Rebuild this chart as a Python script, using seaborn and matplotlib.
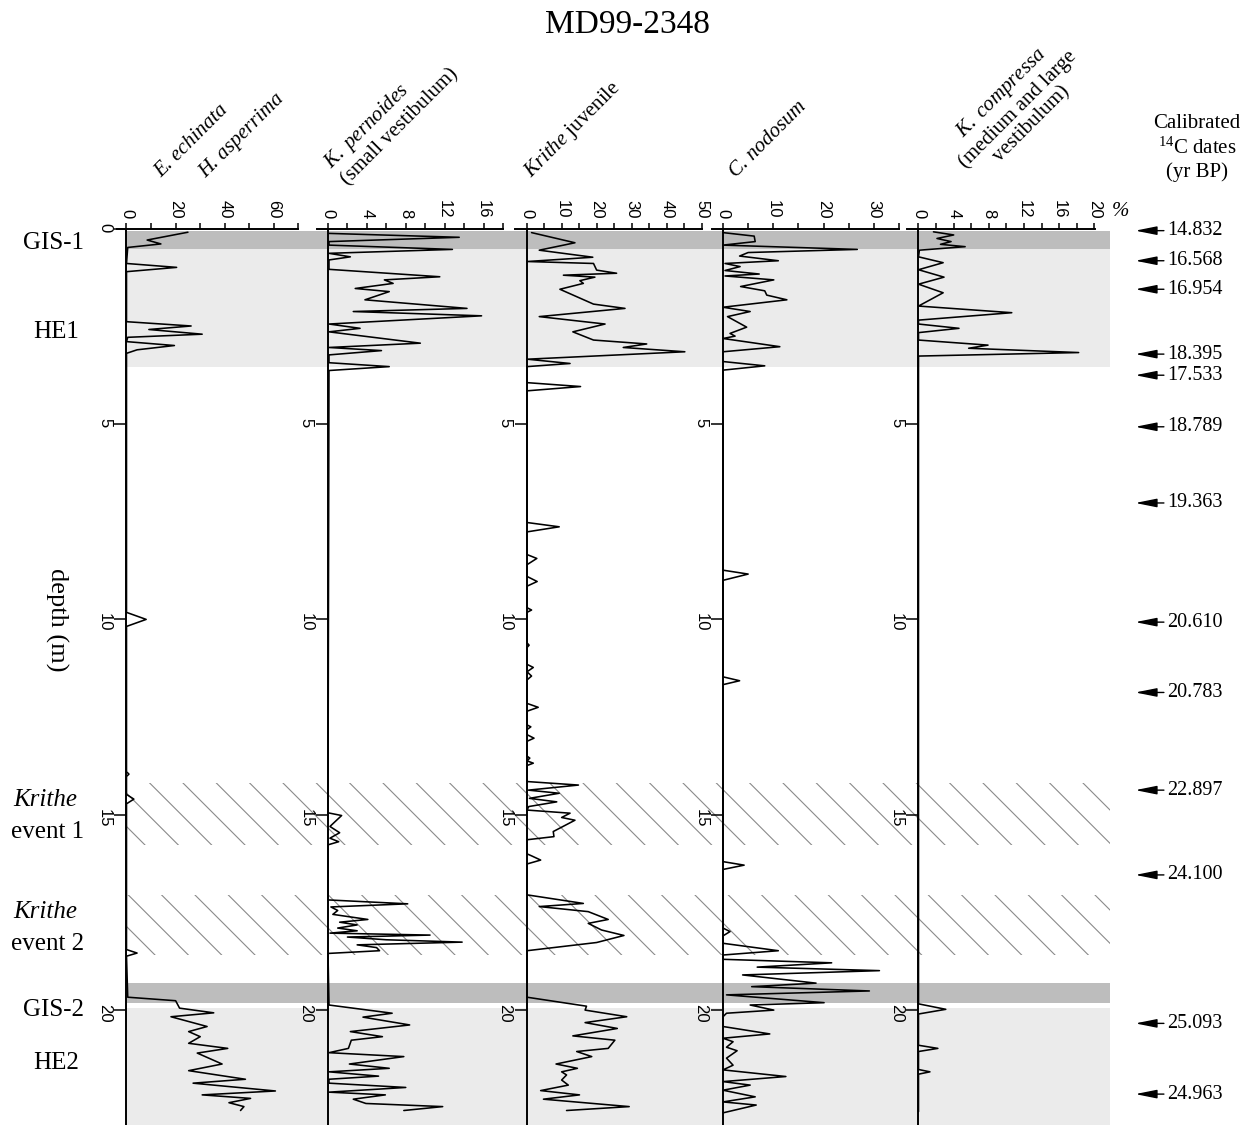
import matplotlib
matplotlib.use("Agg")
import matplotlib.pyplot as plt
import seaborn as sns
import numpy as np

# ---- data: depth (m) and abundance (%) ----
ech_depth = [0.09, 0.29, 0.39, 0.48, 0.89, 0.99, 1.10, 2.38, 2.49, 2.58, 2.70, 2.78, 2.89, 2.99, 3.10, 3.19,
             9.82, 10.0, 10.18, 13.9, 13.96, 14.02, 14.48, 14.6, 14.72, 18.45, 18.54, 18.62,
             19.67, 19.76, 19.95, 20.07, 20.17, 20.42, 20.55, 20.68, 20.85, 20.98, 21.1, 21.38, 21.55,
             21.77, 21.87, 22.07, 22.17, 22.26, 22.37, 22.47, 22.57]
ech_pct = [25, 8.4, 14, 0.5, 0, 20.4, 0, 0, 26.3, 9.1, 30.8, 0.5, 0, 19.5, 4.3, 0,
           0, 8, 0, 0, 1, 0, 0, 3, 0, 0, 4.3, 0,
           0.5, 20, 21.6, 35.5, 18.1, 32.8, 25.3, 30, 25.3, 41.2, 28.8, 38.9, 25.3,
           48.4, 27.1, 60.6, 30.8, 50.5, 41.7, 47.8, 46.4]

per_depth = [0.12, 0.22, 0.33, 0.42, 0.53, 0.63, 0.72, 0.80, 1.04, 1.23, 1.31, 1.40, 1.53, 1.61, 1.82,
             2.04, 2.12, 2.23, 2.44, 2.55, 2.64, 2.93, 3.04, 3.12, 3.23, 3.43, 3.53, 3.63,
             14.95, 15.02, 15.3, 15.46, 15.6, 15.69, 15.77,
             17.18, 17.28, 17.36, 17.45, 17.55, 17.68, 17.75, 17.82, 17.9, 17.97, 18.03, 18.08, 18.13,
             18.2, 18.26, 18.33, 18.4, 18.48, 18.55,
             19.87, 20.08, 20.18, 20.38, 20.55, 20.68, 20.77, 20.98, 21.09, 21.19, 21.38, 21.49, 21.58,
             21.69, 21.77, 21.87, 21.98, 22.1, 22.17, 22.28, 22.39, 22.47, 22.57]
per_pct = [0.1, 13.5, 0.1, 0.1, 12.8, 0.1, 2.3, 0.1, 0.1, 11.5, 5.8, 6.7, 2.8, 6.3, 3.8,
           14.3, 2.6, 15.8, 0.1, 3.3, 0.1, 9.5, 0.1, 5.5, 0.1, 0.1, 6.3, 0.1,
           0, 1.4, 0.2, 1.2, 0.2, 1.1, 0,
           0, 8.2, 0.3, 1, 0.5, 4.1, 1.2, 3, 1, 3, 0.2, 10.5, 2,
           6, 13.8, 3, 5, 5.3, 0,
           0.1, 6.6, 3.6, 8.4, 2.3, 5.6, 2.4, 2.1, 0.1, 7.8, 2.2, 6.3, 0.1,
           5.2, 0.1, 0.1, 8.0, 0.1, 5.9, 2.6, 3.9, 11.8, 7.8]

juv_depth = [0.1, 0.36, 0.55, 0.73, 0.84, 0.89, 1.06, 1.14, 1.19, 1.24, 1.33, 1.40, 1.55, 1.74, 1.93,
             2.04, 2.25, 2.44, 2.64, 2.85, 2.95, 3.04, 3.15, 3.34, 3.45, 3.53,
             3.94, 4.04, 4.15, 7.52, 7.63, 7.76, 8.34, 8.44, 8.6, 8.9, 9.03, 9.15, 9.7, 9.76, 9.82,
             10.6, 10.66, 10.72, 11.15, 11.23, 11.34, 11.45, 11.55, 12.15, 12.25, 12.35,
             12.7, 12.75, 12.82, 12.95, 13.04, 13.12, 13.5, 13.55, 13.62, 13.68, 13.74,
             14.15, 14.24, 14.37, 14.45, 14.58, 14.67, 14.79, 14.88, 14.96, 15.07, 15.14, 15.43, 15.56, 15.64,
             16.0, 16.06, 16.16, 16.26,
             17.05, 17.27, 17.35, 17.48, 17.68, 17.78, 17.95, 18.09, 18.27, 18.48,
             19.67, 19.9, 20.0, 20.17, 20.32, 20.47, 20.66, 20.77, 20.98, 21.06, 21.19, 21.38, 21.49,
             21.58, 21.66, 21.79, 21.92, 22.06, 22.17, 22.28, 22.47, 22.57]
juv_pct = [1.3, 13.7, 3.5, 18.8, 0.1, 19, 19.9, 25.6, 10.4, 19.4, 15.1, 16.1, 9.4, 14.2, 19,
           28, 3.5, 22.3, 13.1, 19, 34.2, 27.5, 45.1, 0.1, 12.3, 0,
           0, 15.3, 0, 0, 9.2, 0, 0, 2.8, 0, 0, 2.9, 0, 0, 1.3, 0,
           0, 0.6, 0, 0, 1.8, 0, 1.3, 0, 0, 3.2, 0,
           0, 1.1, 0, 0, 2, 0, 0, 0.8, 0, 1.8, 0,
           0, 14.7, 0.4, 9.2, 0.7, 8.5, 0.5, 0, 12.3, 9.9, 13.7, 7.5, 7.7, 0,
           0, 1.5, 3.9, 0,
           0, 16.1, 3.5, 17.5, 23.2, 17.5, 21.3, 27.7, 19.9, 0,
           0, 17, 16.6, 28.5, 16.6, 25.8, 13.1, 25.1, 23.2, 14.2, 18.5, 8.3, 14.4,
           9.9, 11.3, 9.9, 11.8, 3.9, 15, 4.7, 29.2, 11.3]

nod_depth = [0.1, 0.19, 0.33, 0.42, 0.53, 0.61, 0.70, 0.82, 0.89, 0.97, 1.07, 1.16, 1.21, 1.31, 1.48,
             1.59, 1.70, 1.82, 2.01, 2.12, 2.25, 2.52, 2.68, 2.75, 2.81, 3.02, 3.15, 3.4, 3.51, 3.62,
             8.74, 8.84, 9.0, 11.47, 11.57, 11.67, 16.2, 16.29, 16.4, 17.9, 17.99, 18.1,
             18.29, 18.48, 18.59, 18.7, 18.79, 18.9, 18.99, 19.1, 19.31, 19.4, 19.51, 19.61, 19.81,
             19.87, 20.0, 20.08, 20.17, 20.42, 20.61, 20.72, 20.81, 20.95, 21.04, 21.23, 21.41, 21.53,
             21.7, 21.83, 21.92, 22.05, 22.22, 22.35, 22.43, 22.63]
nod_pct = [0, 6.2, 6.4, 0, 26.7, 5, 3.3, 11, 0.4, 3.4, 0.4, 7.2, 0.4, 10.1, 3.5,
           8.3, 8.7, 12.7, 0, 5.4, 0.9, 4.7, 1.4, 2.4, 0, 11.3, 0, 0, 8.3, 0,
           0, 5, 0, 0, 3.3, 0, 0, 4.2, 0, 0, 1.4, 0,
           0, 11, 0, 0, 21.6, 6.8, 31.1, 3.9, 18.5, 5.7, 29.1, 0.7, 20.1,
           5.4, 10.1, 0.7, 0, 0, 9.3, 0, 2, 0.7, 2.8, 0.7, 2, 0,
           12.5, 0, 5.4, 0, 6.4, 0, 6.6, 0]

com_depth = [0.08, 0.16, 0.25, 0.33, 0.40, 0.46, 0.55, 0.72, 0.87, 1.05, 1.24, 1.42, 1.64, 1.98,
             2.15, 2.34, 2.44, 2.55, 2.66, 2.85, 2.98, 3.06, 3.17, 3.26,
             19.84, 19.98, 20.1, 20.9, 20.98, 21.06, 21.52, 21.58, 21.64, 22.6]
com_pct = [1.7, 4, 2.1, 3.7, 2.5, 5.3, 0.1, 0, 2.8, 0, 2.9, 0, 2.8, 0,
           10.6, 0, 0, 4.6, 0, 0, 7.9, 5.7, 18.2, 0,
           0, 3.1, 0, 0, 2.2, 0, 0, 1.3, 0, 0]

# shaded intervals (depth m)
band_top = [0.07, 0.51, 14.18, 17.05, 19.31, 19.94]
band_bottom = [0.51, 3.53, 15.77, 18.59, 19.82, 23.5]
band_kind = ["dark", "light", "hatch", "hatch", "dark", "light"]

# calibrated 14C dates on the right
date_depth = [0.05, 0.82, 1.55, 3.21, 3.75, 5.07, 7.02, 10.07, 11.87, 14.37, 16.54, 20.34, 22.15]
date_label = ["14.832", "16.568", "16.954", "18.395", "17.533", "18.789", "19.363",
              "20.610", "20.783", "22.897", "24.100", "25.093", "24.963"]

# ---- layout (pixels of the 1247 x 1125 picture) ----
W, H = 1247, 1125
TOP, BOT = 228.7, 1125
PX_PER_M = 39.07
DMAX = (BOT - TOP) / PX_PER_M

def fx(x):
    return x / W

def fy(y):
    return 1 - y / H

sns.set_theme(style="white")
plt.rcParams["font.family"] = ["Liberation Serif", "DejaVu Serif"]
plt.rcParams["mathtext.fontset"] = "custom"
plt.rcParams["mathtext.rm"] = "Liberation Serif"
plt.rcParams["mathtext.it"] = "Liberation Serif:italic"
plt.rcParams["mathtext.bf"] = "Liberation Serif:bold"
plt.rcParams["hatch.linewidth"] = 0.8
for key in ["text.color", "axes.labelcolor", "xtick.color", "ytick.color", "axes.edgecolor"]:
    plt.rcParams[key] = "black"

fig = plt.figure(figsize=(W / 100, H / 100), dpi=100)

# background bands shared by all panels
bg = fig.add_axes([fx(126.5), 0, fx(1110) - fx(126.5), fy(TOP)])
bg.set_xlim(0, 1)
bg.set_ylim(DMAX, 0)
bg.axis("off")
for t, b, k in zip(band_top, band_bottom, band_kind):
    if k == "dark":
        bg.axhspan(t, b, color="#bdbdbd", lw=0)
    elif k == "light":
        bg.axhspan(t, b, color="#ebebeb", lw=0)
    else:
        bg.axhspan(t, b, facecolor="none", edgecolor="#8a8a8a", lw=0, hatch="\\")

# panels: (depth, pct, zero px, px per unit, left px, xmax, major, minor)
panels = [
    (ech_depth, ech_pct, 126.5, 2.457, 117, 70, 20, 10),
    (per_depth, per_pct, 328, 9.72, 317, 18, 4, 2),
    (juv_depth, juv_pct, 527, 3.5, 515, 50, 10, 5),
    (nod_depth, nod_pct, 723, 5.03, 712, 35, 10, 5),
    (com_depth, com_pct, 918.5, 8.8, 907, 20, 4, 2),
]

for i, (dep, pct, zero, scale, left, xmax, major, minor) in enumerate(panels):
    right = zero + xmax * scale
    ax = fig.add_axes([fx(left), 0, fx(right) - fx(left), fy(TOP)])
    ax.patch.set_alpha(0)
    sns.lineplot(x=pct, y=dep, orient="y", sort=False, estimator=None,
                 color="black", lw=1.15, ax=ax)
    ax.set_xlim((left - zero) / scale, xmax + 0.001)
    ax.set_ylim(DMAX, 0)
    ax.set_xlabel("")
    ax.set_ylabel("")
    for s in ["right", "bottom"]:
        ax.spines[s].set_visible(False)
    ax.spines["left"].set_position(("data", 0))
    for s in ["left", "top"]:
        ax.spines[s].set_color("black")
        ax.spines[s].set_linewidth(1.4)
    ax.xaxis.tick_top()
    ax.set_xticks(np.arange(0, xmax + 0.01, major))
    ax.set_xticks(np.arange(0, xmax + 0.01, minor), minor=True)
    yt = [0, 5, 10, 15, 20] if i == 0 else [5, 10, 15, 20]
    ax.set_yticks(yt)
    ax.tick_params(axis="x", which="both", direction="out", length=4.5, width=1.1,
                   color="black", labelsize=12, labelrotation=-90, pad=3)
    ax.tick_params(axis="y", direction="out", length=8.5, width=1.1, color="black",
                   labelsize=12, labelrotation=-90, pad=2, left=True)
    for lbl in ax.get_xticklabels() + ax.get_yticklabels():
        lbl.set_fontfamily("Liberation Sans")
    ax.grid(False)

# date arrows
da = fig.add_axes([fx(1133), 0, fx(W) - fx(1133), fy(TOP)])
da.set_xlim(0, 1)
da.set_ylim(DMAX, 0)
da.axis("off")
for d, lab in zip(date_depth, date_label):
    da.annotate(lab, xy=(0.02, d), xytext=(0.3, d), ha="left", va="center", fontsize=14.5,
                arrowprops=dict(arrowstyle="-|>,head_length=0.9,head_width=0.18",
                                color="black", lw=1.0, shrinkA=0, shrinkB=0))

# titles and headers
fig.text(fx(627), fy(25), "MD99-2348", ha="center", va="center", fontsize=24)
fig.text(fx(1197), fy(148), "Calibrated\n$^{14}$C dates\n(yr BP)", ha="center", va="center",
         fontsize=15, linespacing=1.25)
fig.text(fx(1112), fy(212), "%", ha="left", va="center", fontsize=15, style="italic")

hdr = dict(rotation=45, rotation_mode="anchor", fontsize=15)
fig.text(fx(161), fy(178), "E. echinata", ha="left", va="baseline", style="italic", **hdr)
fig.text(fx(206), fy(178), "H. asperrima", ha="left", va="baseline", style="italic", **hdr)
fig.text(fx(391), fy(118), "$\\mathit{K.\\ pernoides}$\n(small vestibulum)",
         ha="center", va="center", multialignment="left", **hdr)
fig.text(fx(531), fy(178), "$\\mathit{Krithe}$ juvenile", ha="left", va="baseline", **hdr)
fig.text(fx(736), fy(178), "C. nodosum", ha="left", va="baseline", style="italic", **hdr)
fig.text(fx(1016), fy(108), "$\\mathit{K.\\ compressa}$\n(medium and large\nvestibulum)",
         ha="center", va="center", multialignment="center", linespacing=1.1, **hdr)

# left-hand labels
side = dict(ha="center", va="center", fontsize=18)
fig.text(fx(53), fy(243), "GIS-1", **side)
fig.text(fx(56), fy(332), "HE1", **side)
fig.text(fx(57), fy(620), "depth (m)", rotation=-90, ha="center", va="center", fontsize=19)
fig.text(fx(45), fy(800), "Krithe", style="italic", **side)
fig.text(fx(48), fy(832), "event 1", **side)
fig.text(fx(45), fy(912), "Krithe", style="italic", **side)
fig.text(fx(48), fy(944), "event 2", **side)
fig.text(fx(53), fy(1010), "GIS-2", **side)
fig.text(fx(56), fy(1063), "HE2", **side)

fig.savefig("out.png", dpi=100)
